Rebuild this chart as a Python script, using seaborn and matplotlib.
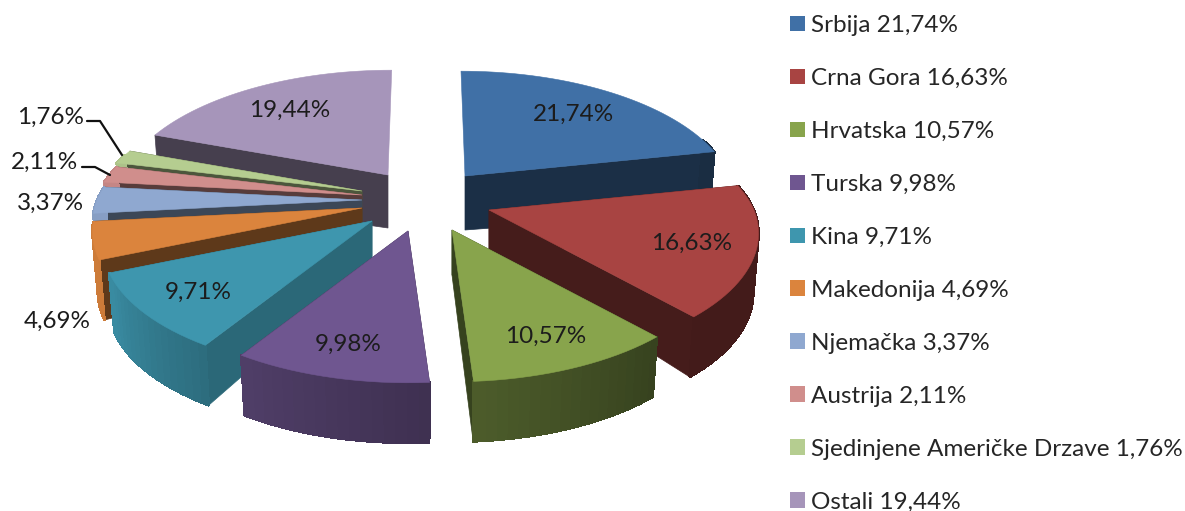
import numpy as np
import matplotlib
matplotlib.use("Agg")
import matplotlib.pyplot as plt
from matplotlib.patches import Patch
from matplotlib.colors import to_rgb
import seaborn as sns

# --- data ---
categories = ["Srbija", "Crna Gora", "Hrvatska", "Turska", "Kina", "Makedonija",
              "Njemačka", "Austrija", "Sjedinjene Američke Drzave", "Ostali"]
shares = [21.74, 16.63, 10.57, 9.98, 9.71, 4.69, 3.37, 2.11, 1.76, 19.44]

# --- styling / layout ---
colors = ["#4070A6", "#A84442", "#88A44C", "#6F5690", "#3E96AE",
          "#DB843D", "#8FA8D0", "#D08E8C", "#B5CD90", "#A695BA"]
apex_x = [465, 489, 452, 408, 372, 362, 362, 362, 362, 388]
apex_y = [176, 210, 230, 231, 221, 208, 200, 195, 191, 175]
cut_shade = [.42, .41, .40, .55, .69, .43, .42, .42, .42, .42]
apex_depth = [54, 40, 45, 45, 42, 45, 45, 45, 45, 53]
outer_depth = 60
draw_order = [9, 0, 8, 7, 6, 1, 5, 4, 3, 2]
R0, K, P = 265.0, 124.0, 0.183
VANISH_X, VANISH_C = 425.0, 0.10
inside = {0, 1, 2, 3, 4, 9}
outside_labels = {5: (57, 321), 6: (50, 203), 7: (45, 162), 8: (51, 117)}
FONT = "Lato"
FS = 17.5

sns.set_theme(style="white")
plt.rcParams["font.family"] = [FONT, "DejaVu Sans"]
palette = sns.color_palette(colors)

fig = plt.figure(figsize=(11.85, 5.11), dpi=100)
ax = fig.add_axes([0, 0, 1, 1])
ax.set_xlim(0, 1185)
ax.set_ylim(511, 0)
ax.axis("off")


def rim(theta_deg, ax0, ay0, frac=1.0):
    t = np.radians(theta_deg)
    v = -np.cos(t)
    s = 1 / (1 - P * v)
    x = ax0 + frac * (R0 * np.sin(t) * s + (VANISH_X - ax0) * VANISH_C * np.maximum(0, -v))
    return x, ay0 + frac * K * v * s


def lower(x, y, ax0):
    x, y = np.asarray(x, float), np.asarray(y, float)
    return ax0 + .98 * (x - ax0), y + outer_depth


def shade(rgb, f):
    return tuple(np.clip(np.array(rgb) * f, 0, 1))


edges = np.concatenate([[0], np.cumsum(shares)]) * 3.6
for i in draw_order:
    a0, a1 = edges[i], edges[i + 1]
    ax0, ay0 = apex_x[i], apex_y[i]
    c = to_rgb(palette[i])
    dap = apex_depth[i]
    th = np.linspace(a0, a1, max(int((a1 - a0) / 2), 2) + 1)
    x, y = rim(th, ax0, ay0)
    xb, yb = lower(x, y, ax0)
    fac = np.interp((th[:-1] + th[1:]) / 2, [78, 138, 176, 212, 247, 290], [.4, .4, .56, .72, .93, .95])
    mids = -np.cos(np.radians((th[:-1] + th[1:]) / 2))
    # the cut walls, leaving out those that face away at the back
    for k in (0, -1):
        if np.cos(np.radians(th[k])) > .95:
            continue
        ax.fill([ax0, x[k], xb[k], ax0], [ay0, y[k], yb[k], ay0 + dap],
                color=shade(c, cut_shade[i]), lw=.5)
    # rim wall: only the part that can be seen from the front
    for j in np.where(mids > -.3)[0]:
        ax.fill([x[j], x[j + 1], xb[j + 1], xb[j]], [y[j], y[j + 1], yb[j + 1], yb[j]],
                color=shade(c, fac[j]), lw=1.2, antialiased=False)
    ax.fill(np.r_[ax0, x], np.r_[ay0, y], color=c, lw=.4)

label_color = "#1c1c1c"
for i, val in enumerate(shares):
    text = f"{val:.2f}%".replace(".", ",")
    if i in inside:
        lx, ly = rim((edges[i] + edges[i + 1]) / 2, apex_x[i], apex_y[i], .76)
        ly += 2
    else:
        lx, ly = outside_labels[i]
    ax.text(lx, ly, text, ha="center", va="center", fontsize=FS, color=label_color)

# leader lines of the two smallest labelled slices
ax.plot([87, 100, 122], [121, 121, 155], color="#111111", lw=1.6)
ax.plot([82, 95, 110], [167, 167, 175], color="#111111", lw=1.6)

handles = [Patch(facecolor=palette[i], edgecolor="none") for i in range(len(shares))]
labels = [f"{n} {v:.2f}%".replace(".", ",") for n, v in zip(categories, shares)]
ax.legend(handles, labels, loc="upper left", bbox_to_anchor=(790, 15), bbox_transform=ax.transData,
          frameon=False, fontsize=FS, borderpad=0, borderaxespad=0, handlelength=.62, handleheight=.62,
          handletextpad=.24, labelspacing=1.316, labelcolor="#262626")

fig.savefig("out.png", dpi=100, facecolor="white")
